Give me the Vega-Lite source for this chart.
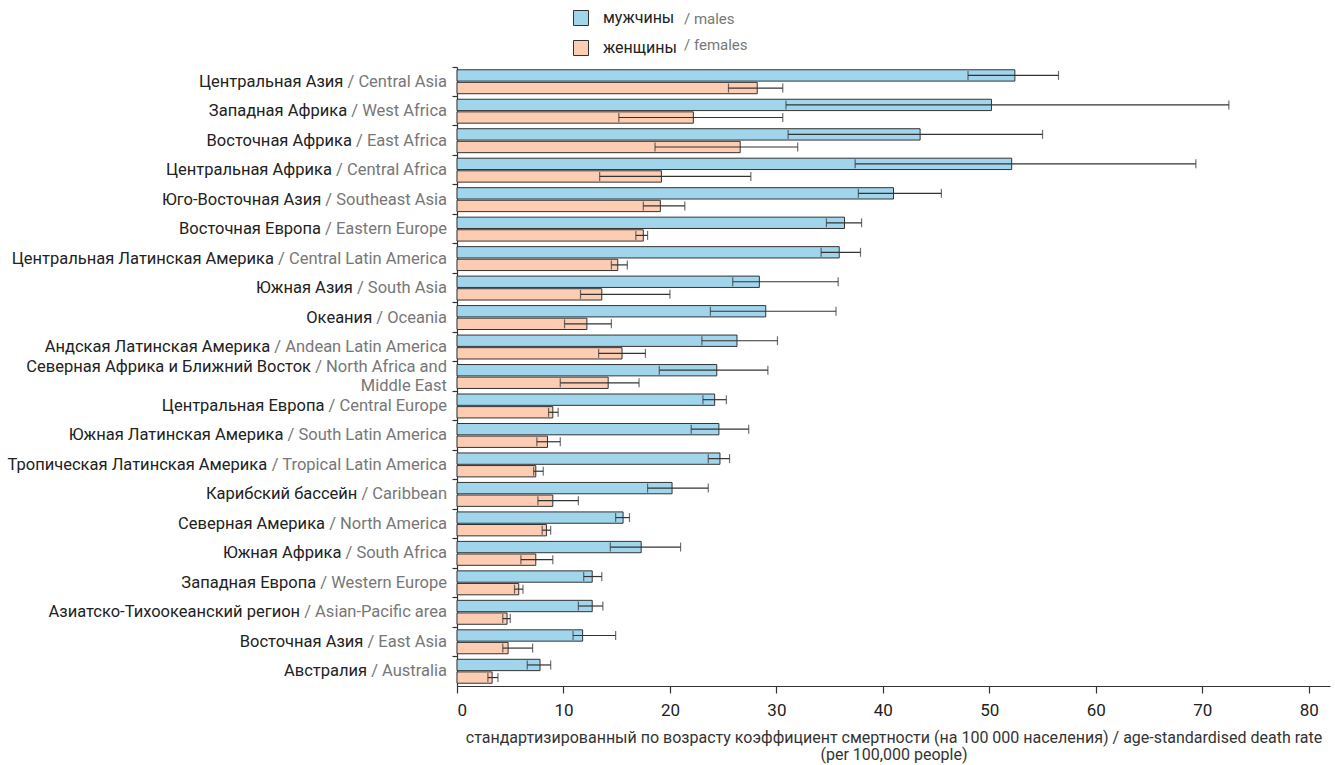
{
  "$schema": "https://vega.github.io/schema/vega-lite/v6.json",
  "width": 873,
  "height": 619,
  "autosize": {"type": "none"},
  "padding": {"left": 457, "top": 67, "right": 5, "bottom": 79},
  "config": {"view": {"stroke": null}, "font": "Roboto"},
  "data": {"values": [
    {"region": "Центральная Азия", "label": "Центральная Азия / Central Asia", "en": "/ Central Asia", "sex": "мужчины", "sex_en": "males", "value": 52.4, "lower": 48.0, "upper": 56.5},
    {"region": "Центральная Азия", "label": "Центральная Азия / Central Asia", "en": "/ Central Asia", "sex": "женщины", "sex_en": "females", "value": 28.2, "lower": 25.5, "upper": 30.6},
    {"region": "Западная Африка", "label": "Западная Африка / West Africa", "en": "/ West Africa", "sex": "мужчины", "sex_en": "males", "value": 50.2, "lower": 30.9, "upper": 72.5},
    {"region": "Западная Африка", "label": "Западная Африка / West Africa", "en": "/ West Africa", "sex": "женщины", "sex_en": "females", "value": 22.2, "lower": 15.2, "upper": 30.6},
    {"region": "Восточная Африка", "label": "Восточная Африка / East Africa", "en": "/ East Africa", "sex": "мужчины", "sex_en": "males", "value": 43.5, "lower": 31.1, "upper": 55.0},
    {"region": "Восточная Африка", "label": "Восточная Африка / East Africa", "en": "/ East Africa", "sex": "женщины", "sex_en": "females", "value": 26.6, "lower": 18.6, "upper": 32.0},
    {"region": "Центральная Африка", "label": "Центральная Африка / Central Africa", "en": "/ Central Africa", "sex": "мужчины", "sex_en": "males", "value": 52.1, "lower": 37.4, "upper": 69.4},
    {"region": "Центральная Африка", "label": "Центральная Африка / Central Africa", "en": "/ Central Africa", "sex": "женщины", "sex_en": "females", "value": 19.2, "lower": 13.4, "upper": 27.6},
    {"region": "Юго-Восточная Азия", "label": "Юго-Восточная Азия / Southeast Asia", "en": "/ Southeast Asia", "sex": "мужчины", "sex_en": "males", "value": 41.0, "lower": 37.7, "upper": 45.5},
    {"region": "Юго-Восточная Азия", "label": "Юго-Восточная Азия / Southeast Asia", "en": "/ Southeast Asia", "sex": "женщины", "sex_en": "females", "value": 19.1, "lower": 17.5, "upper": 21.4},
    {"region": "Восточная Европа", "label": "Восточная Европа / Eastern Europe", "en": "/ Eastern Europe", "sex": "мужчины", "sex_en": "males", "value": 36.4, "lower": 34.7, "upper": 38.0},
    {"region": "Восточная Европа", "label": "Восточная Европа / Eastern Europe", "en": "/ Eastern Europe", "sex": "женщины", "sex_en": "females", "value": 17.5, "lower": 16.8, "upper": 17.9},
    {"region": "Центральная Латинская Америка", "label": "Центральная Латинская Америка / Central Latin America", "en": "/ Central Latin America", "sex": "мужчины", "sex_en": "males", "value": 35.9, "lower": 34.2, "upper": 37.9},
    {"region": "Центральная Латинская Америка", "label": "Центральная Латинская Америка / Central Latin America", "en": "/ Central Latin America", "sex": "женщины", "sex_en": "females", "value": 15.1, "lower": 14.5, "upper": 16.0},
    {"region": "Южная Азия", "label": "Южная Азия / South Asia", "en": "/ South Asia", "sex": "мужчины", "sex_en": "males", "value": 28.4, "lower": 25.9, "upper": 35.8},
    {"region": "Южная Азия", "label": "Южная Азия / South Asia", "en": "/ South Asia", "sex": "женщины", "sex_en": "females", "value": 13.6, "lower": 11.6, "upper": 20.0},
    {"region": "Океания", "label": "Океания / Oceania", "en": "/ Oceania", "sex": "мужчины", "sex_en": "males", "value": 29.0, "lower": 23.8, "upper": 35.6},
    {"region": "Океания", "label": "Океания / Oceania", "en": "/ Oceania", "sex": "женщины", "sex_en": "females", "value": 12.2, "lower": 10.1, "upper": 14.5},
    {"region": "Андская Латинская Америка", "label": "Андская Латинская Америка / Andean Latin America", "en": "/ Andean Latin America", "sex": "мужчины", "sex_en": "males", "value": 26.3, "lower": 23.0, "upper": 30.1},
    {"region": "Андская Латинская Америка", "label": "Андская Латинская Америка / Andean Latin America", "en": "/ Andean Latin America", "sex": "женщины", "sex_en": "females", "value": 15.5, "lower": 13.3, "upper": 17.7},
    {"region": "Северная Африка и Ближний Восток", "label": "Северная Африка и Ближний Восток / North Africa and\nMiddle East", "en": "/ North Africa and\nMiddle East", "sex": "мужчины", "sex_en": "males", "value": 24.4, "lower": 19.0, "upper": 29.2},
    {"region": "Северная Африка и Ближний Восток", "label": "Северная Африка и Ближний Восток / North Africa and\nMiddle East", "en": "/ North Africa and\nMiddle East", "sex": "женщины", "sex_en": "females", "value": 14.2, "lower": 9.7, "upper": 17.1},
    {"region": "Центральная Европа", "label": "Центральная Европа / Central Europe", "en": "/ Central Europe", "sex": "мужчины", "sex_en": "males", "value": 24.2, "lower": 23.1, "upper": 25.3},
    {"region": "Центральная Европа", "label": "Центральная Европа / Central Europe", "en": "/ Central Europe", "sex": "женщины", "sex_en": "females", "value": 9.0, "lower": 8.6, "upper": 9.5},
    {"region": "Южная Латинская Америка", "label": "Южная Латинская Америка / South Latin America", "en": "/ South Latin America", "sex": "мужчины", "sex_en": "males", "value": 24.6, "lower": 22.0, "upper": 27.4},
    {"region": "Южная Латинская Америка", "label": "Южная Латинская Америка / South Latin America", "en": "/ South Latin America", "sex": "женщины", "sex_en": "females", "value": 8.5, "lower": 7.5, "upper": 9.7},
    {"region": "Тропическая Латинская Америка", "label": "Тропическая Латинская Америка / Tropical Latin America", "en": "/ Tropical Latin America", "sex": "мужчины", "sex_en": "males", "value": 24.7, "lower": 23.6, "upper": 25.6},
    {"region": "Тропическая Латинская Америка", "label": "Тропическая Латинская Америка / Tropical Latin America", "en": "/ Tropical Latin America", "sex": "женщины", "sex_en": "females", "value": 7.4, "lower": 7.2, "upper": 8.1},
    {"region": "Карибский бассейн", "label": "Карибский бассейн / Caribbean", "en": "/ Caribbean", "sex": "мужчины", "sex_en": "males", "value": 20.2, "lower": 17.9, "upper": 23.6},
    {"region": "Карибский бассейн", "label": "Карибский бассейн / Caribbean", "en": "/ Caribbean", "sex": "женщины", "sex_en": "females", "value": 9.0, "lower": 7.6, "upper": 11.4},
    {"region": "Северная Америка", "label": "Северная Америка / North America", "en": "/ North America", "sex": "мужчины", "sex_en": "males", "value": 15.6, "lower": 14.9, "upper": 16.2},
    {"region": "Северная Америка", "label": "Северная Америка / North America", "en": "/ North America", "sex": "женщины", "sex_en": "females", "value": 8.4, "lower": 8.0, "upper": 8.8},
    {"region": "Южная Африка", "label": "Южная Африка / South Africa", "en": "/ South Africa", "sex": "мужчины", "sex_en": "males", "value": 17.3, "lower": 14.4, "upper": 21.0},
    {"region": "Южная Африка", "label": "Южная Африка / South Africa", "en": "/ South Africa", "sex": "женщины", "sex_en": "females", "value": 7.4, "lower": 6.0, "upper": 9.0},
    {"region": "Западная Европа", "label": "Западная Европа / Western Europe", "en": "/ Western Europe", "sex": "мужчины", "sex_en": "males", "value": 12.7, "lower": 11.9, "upper": 13.6},
    {"region": "Западная Европа", "label": "Западная Европа / Western Europe", "en": "/ Western Europe", "sex": "женщины", "sex_en": "females", "value": 5.8, "lower": 5.4, "upper": 6.2},
    {"region": "Азиатско-Тихоокеанский регион", "label": "Азиатско-Тихоокеанский регион / Asian-Pacific area", "en": "/ Asian-Pacific area", "sex": "мужчины", "sex_en": "males", "value": 12.7, "lower": 11.4, "upper": 13.7},
    {"region": "Азиатско-Тихоокеанский регион", "label": "Азиатско-Тихоокеанский регион / Asian-Pacific area", "en": "/ Asian-Pacific area", "sex": "женщины", "sex_en": "females", "value": 4.7, "lower": 4.3, "upper": 5.0},
    {"region": "Восточная Азия", "label": "Восточная Азия / East Asia", "en": "/ East Asia", "sex": "мужчины", "sex_en": "males", "value": 11.8, "lower": 10.9, "upper": 14.9},
    {"region": "Восточная Азия", "label": "Восточная Азия / East Asia", "en": "/ East Asia", "sex": "женщины", "sex_en": "females", "value": 4.8, "lower": 4.3, "upper": 7.1},
    {"region": "Австралия", "label": "Австралия / Australia", "en": "/ Australia", "sex": "мужчины", "sex_en": "males", "value": 7.8, "lower": 6.6, "upper": 8.8},
    {"region": "Австралия", "label": "Австралия / Australia", "en": "/ Australia", "sex": "женщины", "sex_en": "females", "value": 3.3, "lower": 2.9, "upper": 3.85}
  ]},
  "encoding": {
    "y": {
      "field": "region", "type": "nominal", "sort": null,
      "scale": {"paddingInner": 0, "paddingOuter": 0},
      "axis": {"labels": false, "title": null, "bandPosition": 0, "tickSize": 5, "tickColor": "#333", "domainColor": "#333", "tickWidth": 1.2, "domainWidth": 1.2, "grid": false}
    }
  },
  "layer": [
    {
      "mark": {"type": "bar", "stroke": "#333", "strokeWidth": 1},
      "encoding": {
        "x": {
          "field": "value", "type": "quantitative",
          "scale": {"domain": [0, 82], "nice": false},
          "axis": {
            "values": [0, 10, 20, 30, 40, 50, 60, 70, 80],
            "title": ["стандартизированный по возрасту коэффициент смертности (на 100 000 населения) / age-standardised death rate", "(per 100,000 people)"],
            "titleFontSize": 16, "titleFontWeight": "normal", "titleColor": "#333", "titleLineHeight": 17, "titlePadding": 11,
            "labelFontSize": 17, "labelColor": "#222", "labelPadding": 9,
            "tickSize": 7, "tickColor": "#333", "tickWidth": 1.2, "domainColor": "#333", "domainWidth": 1.2, "grid": false
          }
        },
        "yOffset": {"field": "sex", "type": "nominal", "scale": {"domain": ["мужчины", "женщины"], "paddingInner": 0.1, "paddingOuter": 0.22}},
        "fill": {
          "field": "sex", "type": "nominal",
          "scale": {"domain": ["мужчины", "женщины"], "range": ["#a1d5ec", "#fccdb3"]},
          "legend": {"orient": "none", "legendX": 116, "legendY": -57, "title": null, "symbolType": "square", "symbolSize": 225, "symbolStrokeColor": "#333", "symbolStrokeWidth": 1, "labelFontSize": 16, "labelColor": "#222", "labelOffset": 14, "rowPadding": 10, "padding": 0}
        },
        "opacity": {
          "field": "sex_en", "type": "nominal",
          "scale": {"domain": ["males", "females"], "range": [1, 1]},
          "legend": {"orient": "none", "legendX": 198, "legendY": -56, "title": null, "symbolType": "M0,0", "symbolSize": 225, "symbolOpacity": 0, "symbolFillColor": "transparent", "symbolStrokeColor": "transparent", "symbolStrokeWidth": 0, "labelFontSize": 15, "labelColor": "#777", "labelExpr": "'/ ' + datum.label", "labelOffset": 14, "rowPadding": 10, "padding": 0}
        }
      }
    },
    {
      "mark": {"type": "rule", "color": "#333", "strokeWidth": 1.2},
      "encoding": {
        "x": {"field": "lower", "type": "quantitative"},
        "x2": {"field": "upper"},
        "yOffset": {"field": "sex", "type": "nominal", "scale": {"domain": ["мужчины", "женщины"], "paddingInner": 0.1, "paddingOuter": 0.22}}
      }
    },
    {
      "mark": {"type": "tick", "color": "#333", "thickness": 1.2, "size": 9, "orient": "vertical"},
      "encoding": {
        "x": {"field": "lower", "type": "quantitative"},
        "yOffset": {"field": "sex", "type": "nominal", "scale": {"domain": ["мужчины", "женщины"], "paddingInner": 0.1, "paddingOuter": 0.22}}
      }
    },
    {
      "mark": {"type": "tick", "color": "#333", "thickness": 1.2, "size": 9, "orient": "vertical"},
      "encoding": {
        "x": {"field": "upper", "type": "quantitative"},
        "yOffset": {"field": "sex", "type": "nominal", "scale": {"domain": ["мужчины", "женщины"], "paddingInner": 0.1, "paddingOuter": 0.22}}
      }
    },
    {
      "transform": [{"filter": "datum.sex == 'мужчины'"}],
      "mark": {"type": "text", "align": "right", "baseline": "middle", "dx": -10, "dy": {"expr": "indexof(datum.label, '\\n') >= 0 ? -9.5 : 0"}, "fontSize": 16.5, "color": "#222", "lineBreak": "\n", "lineHeight": 19},
      "encoding": {"x": {"datum": 0, "type": "quantitative"}, "text": {"field": "label"}}
    },
    {
      "transform": [{"filter": "datum.sex == 'мужчины'"}],
      "mark": {"type": "text", "align": "right", "baseline": "middle", "dx": -10, "dy": {"expr": "indexof(datum.label, '\\n') >= 0 ? -9.5 : 0"}, "fontSize": 16.5, "color": "white", "stroke": "white", "strokeWidth": 2, "lineBreak": "\n", "lineHeight": 19},
      "encoding": {"x": {"datum": 0, "type": "quantitative"}, "text": {"field": "en"}}
    },
    {
      "transform": [{"filter": "datum.sex == 'мужчины'"}],
      "mark": {"type": "text", "align": "right", "baseline": "middle", "dx": -10, "dy": {"expr": "indexof(datum.label, '\\n') >= 0 ? -9.5 : 0"}, "fontSize": 16.5, "color": "#777", "lineBreak": "\n", "lineHeight": 19},
      "encoding": {"x": {"datum": 0, "type": "quantitative"}, "text": {"field": "en"}}
    }
  ]
}
